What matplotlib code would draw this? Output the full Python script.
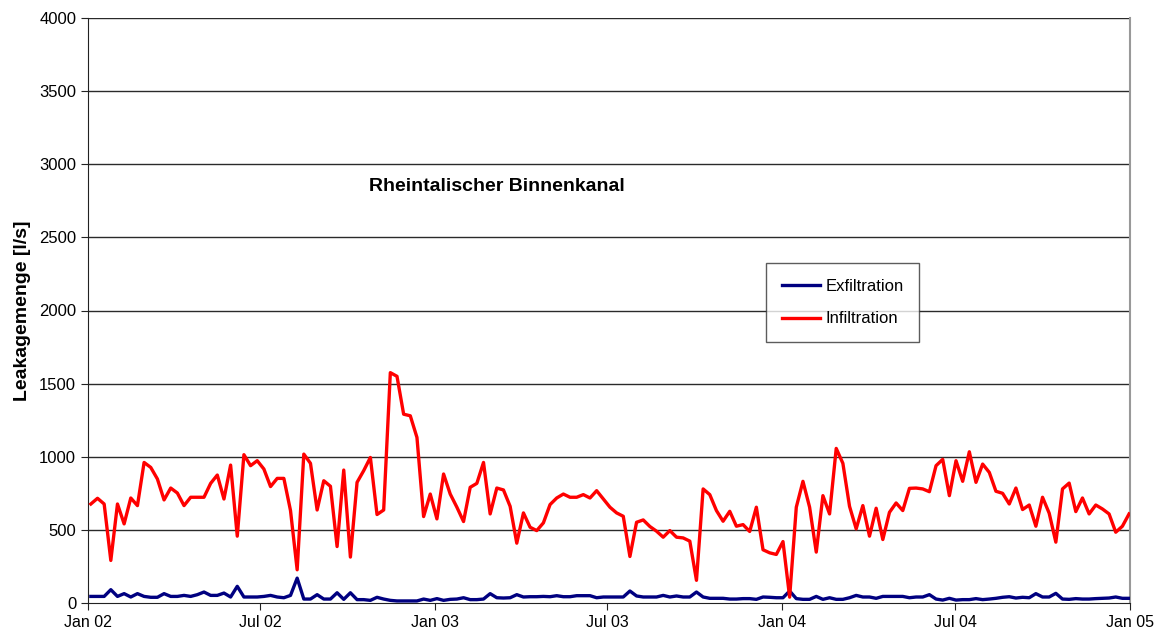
import numpy as np
import pandas as pd
import matplotlib.pyplot as plt
import matplotlib.dates as mdates

plt.rcParams['font.family'] = ['Liberation Sans', 'DejaVu Sans']

# weekly values
infiltration = [
    677, 716, 677, 291, 677, 541, 718, 666, 961, 927, 848, 705, 786, 752, 666, 723,
    723, 723, 818, 875, 711, 943, 457, 1014, 939, 973,
    916, 796, 852, 852, 632, 227, 1018, 955, 636, 836, 798, 386, 909, 314, 825, 905,
    995, 605, 636, 1575, 1550, 1291, 1280, 1132, 591, 745, 575,
    882, 745, 655, 557, 791, 818, 961, 609, 786, 773, 661, 409, 616, 518, 495, 548,
    673, 718, 745, 723, 723, 741, 718, 768, 711, 655,
    616, 593, 318, 552, 568, 523, 491, 450, 495, 450, 445, 423, 155, 780, 741, 632,
    559, 627, 525, 536, 489, 655, 364, 343, 332, 420,
    40, 655, 832, 655, 348, 734, 609, 1057, 955, 661, 507, 666, 457, 648, 434, 620,
    684, 632, 784, 786, 780, 761, 939, 982, 734, 973,
    832, 1034, 825, 950, 893, 764, 750, 677, 786, 639, 670, 525, 723, 614, 416, 780,
    820, 625, 718, 609, 670, 643, 609, 484, 525, 609,
]

exfiltration = [
    45, 45, 45, 91, 45, 64, 41, 64, 45, 39, 39, 64, 45, 45, 52, 45,
    57, 75, 52, 52, 68, 41, 114, 41, 41, 41,
    45, 52, 41, 36, 52, 170, 27, 27, 57, 27, 27, 70, 25, 70, 23, 23,
    18, 39, 27, 18, 14, 14, 14, 14, 27, 18, 30,
    18, 25, 27, 36, 23, 23, 27, 64, 36, 34, 36, 57, 41, 43, 43, 45,
    43, 50, 43, 43, 50, 50, 50, 36, 41, 41,
    41, 41, 82, 48, 41, 41, 41, 52, 41, 48, 41, 41, 75, 41, 32, 32,
    32, 27, 27, 30, 30, 25, 41, 39, 36, 36,
    82, 30, 25, 25, 45, 25, 36, 25, 25, 36, 52, 41, 41, 32, 45, 45,
    45, 45, 36, 41, 41, 57, 27, 20, 32, 20,
    23, 23, 30, 23, 27, 32, 39, 43, 34, 39, 36, 64, 41, 41, 66, 27,
    25, 30, 27, 27, 30, 32, 34, 41, 32, 32,
]

dates = pd.date_range("2002-01-04", periods=len(infiltration), freq="7D")

fig = plt.figure(figsize=(11.62, 6.37), dpi=100)
ax = fig.add_axes([88/1162, 1 - 603/637, (1130 - 88)/1162, (603 - 18)/637])

for yv in range(500, 4001, 500):
    ax.axhline(yv, color='#2a2a2a', lw=1.0, zorder=1)

ax.plot(dates, exfiltration, color='#000080', lw=2.4, label='Exfiltration', zorder=3)
ax.plot(dates, infiltration, color='#ff0000', lw=2.4, label='Infiltration', zorder=3)

ax.set_ylim(0, 4000)
ax.set_xlim(pd.Timestamp("2002-01-01"), pd.Timestamp("2005-01-01"))
ax.set_yticks(range(0, 4001, 500))
ax.xaxis.set_major_locator(mdates.MonthLocator(bymonth=[1, 7]))
ax.xaxis.set_major_formatter(mdates.DateFormatter('%b %y'))
ax.tick_params(axis='both', direction='out', length=5, color='#222222')
ax.tick_params(axis='y', labelsize=12)
ax.tick_params(axis='x', labelsize=11.5)

ax.spines['top'].set_visible(False)
ax.spines['right'].set_color('#999999')
ax.spines['right'].set_linewidth(1.5)
ax.spines['left'].set_color('#222222')
ax.spines['bottom'].set_color('#222222')

ax.set_ylabel('Leakagemenge [l/s]', fontsize=14, fontweight='bold', labelpad=6)

ax.text(0.3925, 2845, 'Rheintalischer Binnenkanal', transform=ax.get_yaxis_transform(),
        ha='center', va='center', fontsize=14, fontweight='bold')

leg = ax.legend(loc='upper left', bbox_to_anchor=((766 - 88)/1042, 1 - (263 - 18)/585),
                fontsize=12, frameon=True, fancybox=False, handlelength=2.3,
                handletextpad=0.3, borderpad=0.95, labelspacing=1.05, borderaxespad=0)
leg.get_frame().set_edgecolor('#333333')
leg.get_frame().set_linewidth(1.0)
leg.set_zorder(5)

fig.savefig('out.png', dpi=100)
